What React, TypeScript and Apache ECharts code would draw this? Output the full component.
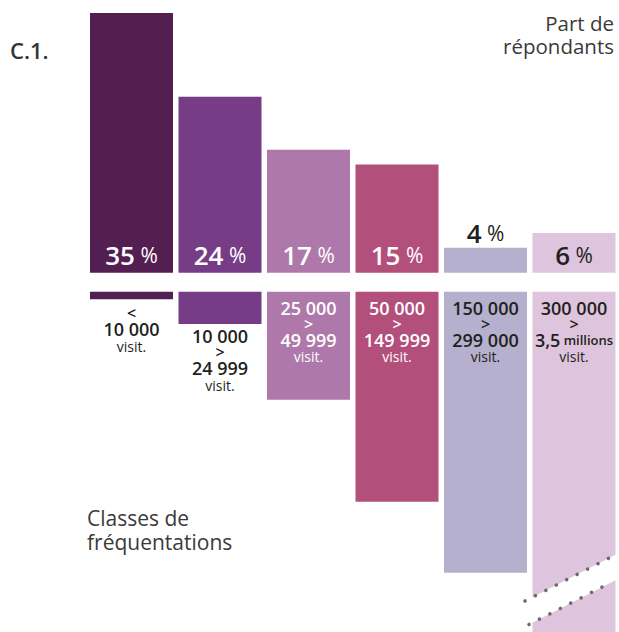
import React, { useEffect, useRef } from "react";
import * as echarts from "echarts";

// Classes de fréquentation (visitors per year)
const classes = [
  "< 10 000",
  "10 000 > 24 999",
  "25 000 > 49 999",
  "50 000 > 149 999",
  "150 000 > 299 000",
  "300 000 > 3,5 millions",
];
const classFrom = ["", "10 000", "25 000", "50 000", "150 000", "300 000"];
const classTo = ["10 000", "24 999", "49 999", "149 999", "299 000", "3,5"];
const classToUnit = ["", "", "", "", "", "millions"];

// Part de répondants (%)
const shareLabels = [35, 24, 17, 15, 4, 6];
const shareValues = [35.3, 23.9, 16.7, 14.7, 3.4, 5.4];

// Visual depth of each class bar (lower panel, arbitrary units)
const classDepth = [7.6, 32.3, 108, 210, 281, 340.3];

const colors = ["#531e51", "#763c85", "#ae79aa", "#b24f7b", "#b5b0ce", "#dec5dd"];
const DARK = "#231f20";
const FONT = "'Open Sans', 'Noto Sans', sans-serif";

function buildOption(): any {
  const topData = shareValues.map((v, i) => ({
    value: v,
    itemStyle: { color: colors[i] },
    label: {
      show: true,
      position: i === 4 ? "top" : "insideBottom",
      distance: i === 4 ? 1 : 4,
      color: i >= 4 ? DARK : "#ffffff",
      formatter: `{n|${shareLabels[i]}}{p| %}`,
    },
  }));

  const bottomData = classDepth.map((v, i) => {
    let text = "";
    if (i === 0) {
      text = `{s|<}\n{n|${classTo[i]}}\n{v|visit.}`;
    } else {
      const to = classToUnit[i] ? `{n|${classTo[i]}} {m|${classToUnit[i]}}` : `{n|${classTo[i]}}`;
      text = `{n|${classFrom[i]}}\n{s|>}\n${to}\n{v|visit.}`;
    }
    const inside = i >= 2;
    return {
      value: v,
      itemStyle: { color: colors[i] },
      label: {
        show: true,
        position: inside ? "insideTop" : "bottom",
        distance: inside ? 7 : i === 0 ? 7 : 3,
        color: i === 2 || i === 3 ? "#ffffff" : DARK,
        formatter: text,
      },
    };
  });

  const richTop = {
    n: { fontSize: 26, fontWeight: 600, fontFamily: FONT, lineHeight: 28 },
    p: { fontSize: 21, fontWeight: 400, fontFamily: FONT, lineHeight: 28 },
  };
  const richBottom = {
    n: { fontSize: 18, fontWeight: 600, fontFamily: FONT, lineHeight: 18 },
    s: { fontSize: 16, fontWeight: 600, fontFamily: FONT, lineHeight: 14 },
    m: { fontSize: 13, fontWeight: 600, fontFamily: FONT, lineHeight: 18 },
    v: { fontSize: 14, fontWeight: 400, fontFamily: FONT, lineHeight: 16 },
  };

  // break marks on the last class bar
  const upper = [[525, 601], [617, 554]];
  const lower = [[529, 624.5], [611, 582.5]];
  const slope = (upper[1][1] - upper[0][1]) / (upper[1][0] - upper[0][0]);
  const yu = (x: number) => upper[0][1] + slope * (x - upper[0][0]);
  const yl = (x: number) => lower[0][1] + slope * (x - lower[0][0]);

  return {
    animation: false,
    backgroundColor: "#ffffff",
    grid: [
      { left: 87.25, width: 531, top: 7.8, height: 264.9 },
      { left: 87.25, width: 531, top: 291.7, height: 340.3 },
    ],
    xAxis: [
      { type: "category", gridIndex: 0, data: classes, show: false },
      { type: "category", gridIndex: 1, data: classes, show: false },
    ],
    yAxis: [
      { type: "value", gridIndex: 0, min: 0, max: 36, show: false },
      { type: "value", gridIndex: 1, min: 0, max: 340.3, inverse: true, show: false },
    ],
    series: [
      {
        type: "bar",
        xAxisIndex: 0,
        yAxisIndex: 0,
        barWidth: 83,
        data: topData,
        label: { rich: richTop },
      },
      {
        type: "bar",
        xAxisIndex: 1,
        yAxisIndex: 1,
        barWidth: 83,
        data: bottomData,
        label: { rich: richBottom },
      },
    ],
    graphic: [
      {
        type: "text",
        x: 10,
        y: 50,
        style: { text: "C.1.", fontSize: 22, fontWeight: 600, fontFamily: FONT, fill: "#333333", verticalAlign: "middle" },
      },
      {
        type: "text",
        x: 614,
        y: 23,
        style: { text: "Part de", fontSize: 20.5, fontFamily: FONT, fill: "#3a3a3a", align: "right", verticalAlign: "middle" },
      },
      {
        type: "text",
        x: 614,
        y: 46,
        style: { text: "répondants", fontSize: 20.5, fontFamily: FONT, fill: "#3a3a3a", align: "right", verticalAlign: "middle" },
      },
      {
        type: "text",
        x: 87,
        y: 518,
        style: { text: "Classes de", fontSize: 21, fontFamily: FONT, fill: "#3a3a3a", verticalAlign: "middle" },
      },
      {
        type: "text",
        x: 87,
        y: 542,
        style: { text: "fréquentations", fontSize: 21, fontFamily: FONT, fill: "#3a3a3a", verticalAlign: "middle" },
      },
      {
        type: "polygon",
        z: 100,
        shape: {
          points: [
            [531, yu(531)],
            [616, yu(616)],
            [616, yl(616)],
            [531, yl(531)],
          ],
        },
        style: { fill: "#ffffff" },
      },
      {
        type: "line",
        z: 101,
        shape: { x1: upper[0][0], y1: upper[0][1], x2: upper[1][0], y2: upper[1][1] },
        style: { stroke: "#6b6b6b", lineWidth: 3.6, lineCap: "round", lineDash: [0.01, 11.7] },
      },
      {
        type: "line",
        z: 101,
        shape: { x1: lower[0][0], y1: lower[0][1], x2: lower[1][0], y2: lower[1][1] },
        style: { stroke: "#6b6b6b", lineWidth: 3.6, lineCap: "round", lineDash: [0.01, 11.7] },
      },
    ],
  };
}

export default function App() {
  const ref = useRef<HTMLDivElement>(null);
  useEffect(() => {
    if (!ref.current) return;
    const chart = echarts.init(ref.current, null, { renderer: "svg" });
    chart.setOption(buildOption());
    return () => chart.dispose();
  }, []);
  return (
    <div
      ref={ref}
      style={{ position: "fixed", left: 0, top: 0, width: 619, height: 632, background: "#ffffff" }}
    />
  );
}
